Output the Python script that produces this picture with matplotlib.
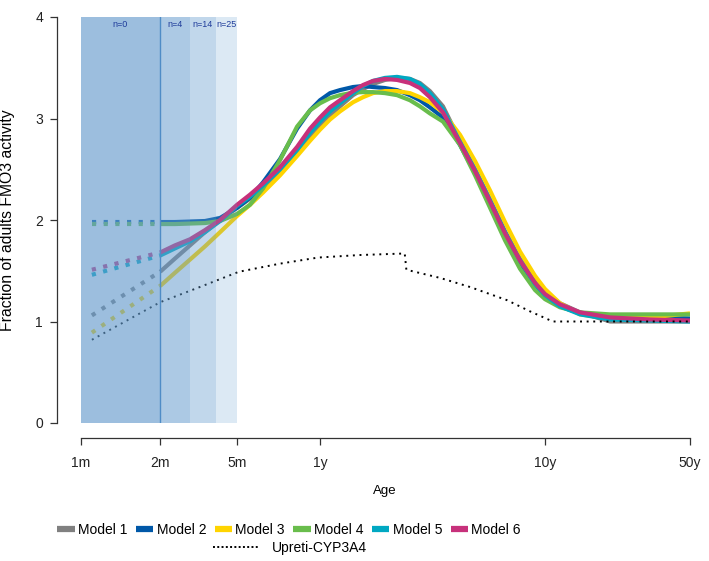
import numpy as np
import matplotlib.pyplot as plt
from matplotlib.lines import Line2D

plt.rcParams['font.family'] = ['Liberation Sans', 'DejaVu Sans']

# ---------------------------------------------------------------------------
# Data (age in years, value = fraction of adult FMO3 activity)
# ---------------------------------------------------------------------------

ages = [0.167, 0.204, 0.25, 0.295, 0.348, 0.417, 0.478, 0.548, 0.656, 0.785,
        0.9, 1.0, 1.108, 1.227, 1.402, 1.553, 1.72, 1.945, 2.2, 2.51,
        2.78, 3.08, 3.52, 4.19, 4.89, 5.7, 6.64, 7.74, 9.03, 10.0,
        11.8, 14.75, 20.6, 32.1, 50.0]

model1 = [1.49, 1.62, 1.75, 1.88, 2.00, 2.12, 2.21, 2.31, 2.47, 2.66,
          2.81, 2.92, 3.03, 3.12, 3.23, 3.29, 3.34, 3.38, 3.40, 3.39,
          3.35, 3.27, 3.12, 2.78, 2.50, 2.20, 1.89, 1.62, 1.40, 1.29,
          1.18, 1.09, 1.00, 1.00, 1.00]
model2 = [1.98, 1.98, 1.985, 1.99, 2.02, 2.12, 2.22, 2.37, 2.60, 2.90,
          3.08, 3.18, 3.25, 3.28, 3.31, 3.32, 3.31, 3.30, 3.28, 3.23,
          3.18, 3.11, 3.01, 2.74, 2.46, 2.15, 1.84, 1.57, 1.36, 1.25,
          1.15, 1.08, 1.05, 1.04, 1.03]
model3 = [1.35, 1.48, 1.61, 1.74, 1.88, 2.04, 2.15, 2.27, 2.44, 2.63,
          2.78, 2.89, 2.99, 3.07, 3.16, 3.21, 3.25, 3.27, 3.27, 3.25,
          3.21, 3.16, 3.06, 2.84, 2.58, 2.29, 1.98, 1.69, 1.45, 1.32,
          1.18, 1.07, 1.03, 1.04, 1.08]
model4 = [1.96, 1.96, 1.965, 1.97, 1.99, 2.06, 2.15, 2.31, 2.59, 2.92,
          3.08, 3.15, 3.20, 3.23, 3.255, 3.26, 3.26, 3.25, 3.23, 3.18,
          3.12, 3.05, 2.97, 2.74, 2.44, 2.12, 1.80, 1.52, 1.31, 1.22,
          1.14, 1.09, 1.07, 1.07, 1.07]
model5 = [1.65, 1.72, 1.79, 1.88, 1.99, 2.14, 2.23, 2.34, 2.50, 2.69,
          2.86, 2.97, 3.07, 3.15, 3.25, 3.32, 3.37, 3.40, 3.41, 3.39,
          3.34, 3.25, 3.09, 2.77, 2.49, 2.19, 1.88, 1.60, 1.37, 1.26,
          1.15, 1.07, 1.02, 1.01, 1.00]
model6 = [1.68, 1.75, 1.81, 1.90, 2.00, 2.15, 2.25, 2.36, 2.52, 2.72,
          2.90, 3.01, 3.11, 3.18, 3.27, 3.33, 3.37, 3.39, 3.38, 3.35,
          3.30, 3.21, 3.06, 2.76, 2.48, 2.18, 1.87, 1.60, 1.38, 1.27,
          1.17, 1.09, 1.04, 1.02, 1.01]

# extrapolation below 2 months (dotted part), start value at ~1.1 months
extrap_ages = [1.1 / 12, 2 / 12]
extrap_start = [1.06, 1.98, 0.89, 1.96, 1.46, 1.51]

upreti_ages = [0.0917, 0.167, 0.279, 0.425, 0.656, 0.98, 1.505, 2.38,
               2.42, 3.41, 4.64, 6.78, 8.58, 10.9, 20.6, 50.0]
upreti_vals = [0.82, 1.19, 1.34, 1.49, 1.57, 1.63, 1.655, 1.67,
               1.51, 1.43, 1.34, 1.21, 1.10, 1.00, 1.00, 1.00]

model_names = ['Model 1', 'Model 2', 'Model 3', 'Model 4', 'Model 5', 'Model 6']
model_colors = ['#808080', '#0058a8', '#ffd400', '#69bd4c', '#00a8c2', '#c7317b']

# sample-size bands
band_edges = [1 / 12, 2 / 12, 3 / 12, 4 / 12, 5 / 12]
band_labels = ['n=0', 'n=4', 'n=14', 'n=25']

tick_ages = [1 / 12, 2 / 12, 5 / 12, 1, 10, 50]
tick_labels = ['1m', '2m', '5m', '1y', '10y', '50y']

# axis knots for the stretched age scale
knot_ages = [1 / 12, 2 / 12, 3 / 12, 4 / 12, 5 / 12, 1, 10, 50]
knot_pos = [0, 79, 109, 135, 156, 239, 464, 609]


def fwd(a):
    a = np.clip(np.asarray(a, dtype=float), 1e-6, None)
    return np.interp(np.log10(a), np.log10(knot_ages), knot_pos)


def inv(p):
    return 10 ** np.interp(p, knot_pos, np.log10(knot_ages))


fig = plt.figure(figsize=(7.09, 5.61), dpi=100)
ax = fig.add_axes([81 / 709, 138 / 561, 609 / 709, 406 / 561])
ax.set_xscale('function', functions=(fwd, inv))

series = [model1, model2, model3, model4, model5, model6]
for vals, start, col in zip(series, extrap_start, model_colors):
    ax.plot(extrap_ages, [start, vals[0]], color=col, lw=3,
            linestyle=(0, (1, 1.8)), dash_capstyle='butt', zorder=2)
    ax.plot(ages, vals, color=col, lw=3, solid_capstyle='butt', zorder=2)

ax.plot(upreti_ages, upreti_vals, color='black', lw=1.4,
        linestyle=(0, (1, 2.4)), zorder=2)

# stacked translucent bands drawn over the curves
for hi in band_edges[1:]:
    ax.axvspan(band_edges[0], hi, ymin=0, ymax=1, color='#649bcd',
               alpha=0.22, lw=0, zorder=3)
ax.axvline(2 / 12, color='#4f8cc6', lw=1, zorder=3)
for lo, hi, lab in zip(band_edges[:-1], band_edges[1:], band_labels):
    ax.text(np.sqrt(lo * hi), 3.93, lab, ha='center', va='center',
            fontsize=6.5, color='#1f3c9a', zorder=4)

ax.set_xlim(1 / 12, 50)
ax.set_ylim(0, 4)
ax.set_xticks(tick_ages)
ax.set_xticklabels(tick_labels, fontsize=9)
ax.xaxis.set_minor_locator(plt.NullLocator())
ax.set_yticks([0, 1, 2, 3, 4])
ax.set_yticklabels(['0', '1', '2', '3', '4'], fontsize=9.5,
                   rotation=90, va='center')

for s in ['top', 'right']:
    ax.spines[s].set_visible(False)
ax.spines['left'].set_position(('outward', 17.3))
ax.spines['bottom'].set_position(('outward', 10.8))
ax.spines['left'].set_bounds(0, 4)
ax.spines['bottom'].set_bounds(1 / 12, 50)
for s in ['left', 'bottom']:
    ax.spines[s].set_color('#333333')
    ax.spines[s].set_linewidth(0.9)
ax.tick_params(axis='both', length=5, width=0.9, color='#333333',
               labelcolor='#222222')
ax.tick_params(axis='x', pad=8)
ax.tick_params(axis='y', pad=5)

fig.text(385 / 709, 1 - 491 / 561, 'Age', ha='center', va='center',
         fontsize=9.5)
fig.text(8 / 709, 1 - 220 / 561, 'Fraction of adults FMO3 activity',
         ha='center', va='center', rotation=90, fontsize=11.3)

handles = [Line2D([], [], color=c, lw=4.5, solid_capstyle='butt')
           for c in model_colors]
fig.legend(handles, model_names, loc='center', ncol=6,
           bbox_to_anchor=(289 / 709, 1 - 530 / 561), frameon=False,
           fontsize=10, handlelength=1.25, handletextpad=0.25,
           columnspacing=0.6, borderpad=0)
up_handle = Line2D([], [], color='black', lw=1.4, linestyle=(0, (1, 1.2)))
fig.legend([up_handle], ['Upreti-CYP3A4'], loc='center',
           bbox_to_anchor=(290 / 709, 1 - 548 / 561), frameon=False,
           fontsize=10, handlelength=3.4, handletextpad=0.9, borderpad=0)

fig.savefig('out.png', dpi=100)
